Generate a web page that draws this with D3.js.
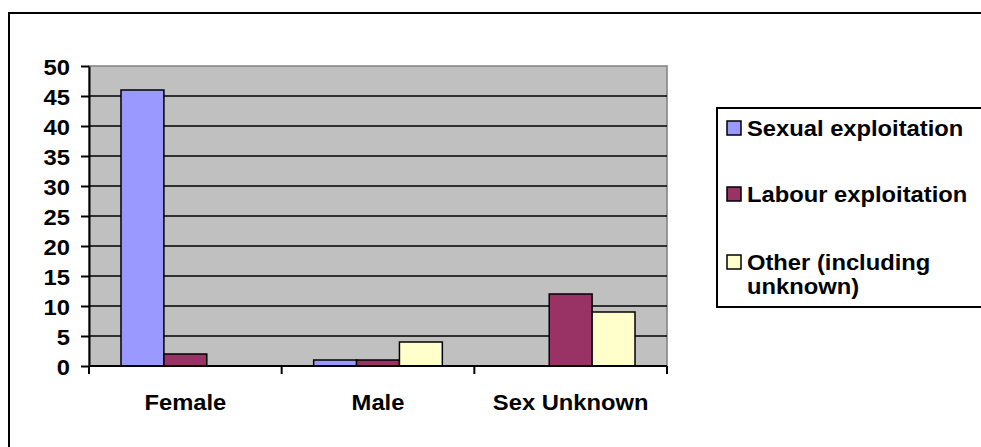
<!DOCTYPE html>
<html>
<head>
<meta charset="utf-8">
<script src="https://cdn.jsdelivr.net/npm/d3@7"></script>
<style>
  body { margin: 0; background: #fff; }
  svg text { font-family: "Liberation Sans", Arial, sans-serif; font-weight: bold; fill: #000; }
</style>
</head>
<body>
<div id="container"></div>
<script>
const categories = ['Female', 'Male', 'Sex Unknown'];
const series = ['Sexual exploitation', 'Labour exploitation', 'Other (including unknown)'];
const sexual = [46, 1, 0];
const labour = [2, 1, 12];
const other = [0, 4, 9];
const yTicks = [0, 5, 10, 15, 20, 25, 30, 35, 40, 45, 50];
const colors = ['#9999ff', '#993366', '#ffffcc'];
const legendLines = [['Sexual exploitation'], ['Labour exploitation'], ['Other (including', 'unknown)']];

const width = 981;
const height = 447;
const stretch = 1.08; // text in the picture is a little wider than it is tall
const fontSize = 22;

const plot = {left: 89, right: 667, top: 66, bottom: 366};

const svg = d3.select('#container').append('svg')
  .attr('width', width)
  .attr('height', height);

// outer chart frame
svg.append('rect')
  .attr('x', 9)
  .attr('y', 13)
  .attr('width', width)
  .attr('height', height)
  .attr('fill', 'none')
  .attr('stroke', '#000')
  .attr('stroke-width', 2);

const x0 = d3.scaleBand()
  .domain(categories)
  .range([plot.left, plot.right]);

const x1 = d3.scaleBand()
  .domain(series)
  .range([32, x0.bandwidth() - 32]);

const y = d3.scaleLinear()
  .domain([0, 50])
  .range([plot.bottom, plot.top]);

// plot area
svg.append('rect')
  .attr('x', plot.left)
  .attr('y', plot.top)
  .attr('width', plot.right - plot.left)
  .attr('height', plot.bottom - plot.top)
  .attr('fill', '#c0c0c0')
  .attr('stroke', '#808080')
  .attr('stroke-width', 1.5);

svg.append('g')
  .selectAll('line')
  .data(yTicks.filter(d => d > 0 && d < 50))
  .join('line')
  .attr('x1', plot.left)
  .attr('x2', plot.right)
  .attr('y1', d => y(d))
  .attr('y2', d => y(d))
  .attr('stroke', '#000')
  .attr('stroke-width', 1.5);

// bars
const rows = categories.map((c, i) => ({
  cat: c,
  values: [sexual[i], labour[i], other[i]]
}));

const group = svg.append('g')
  .selectAll('g')
  .data(rows)
  .join('g')
  .attr('transform', d => `translate(${x0(d.cat)},0)`);

group.selectAll('rect')
  .data(d => d.values.map((v, j) => ({key: series[j], value: v, color: colors[j]})))
  .join('rect')
  .filter(d => d.value > 0)
  .attr('x', d => x1(d.key))
  .attr('y', d => y(d.value))
  .attr('width', x1.bandwidth())
  .attr('height', d => y(0) - y(d.value))
  .attr('fill', d => d.color)
  .attr('stroke', '#000')
  .attr('stroke-width', 1.5);

// axes
const yAxis = svg.append('g')
  .attr('transform', `translate(${plot.left},0)`)
  .call(d3.axisLeft(y).tickValues(yTicks).tickSize(8).tickSizeOuter(0));
yAxis.select('.domain').attr('stroke', '#000').attr('stroke-width', 2);
yAxis.selectAll('.tick line').attr('stroke', '#000').attr('stroke-width', 2);
yAxis.selectAll('.tick text')
  .attr('x', null)
  .attr('dy', null)
  .attr('font-size', fontSize)
  .attr('text-anchor', 'end')
  .attr('transform', `translate(-19,8) scale(${stretch},1)`);

const xAxis = svg.append('g')
  .attr('transform', `translate(0,${plot.bottom})`);
xAxis.append('line')
  .attr('x1', plot.left)
  .attr('x2', plot.right)
  .attr('stroke', '#000')
  .attr('stroke-width', 2);
xAxis.selectAll('.edge')
  .data(categories.map(c => x0(c)).concat([plot.right]))
  .join('line')
  .attr('class', 'edge')
  .attr('x1', d => d)
  .attr('x2', d => d)
  .attr('y1', 0)
  .attr('y2', 8)
  .attr('stroke', '#000')
  .attr('stroke-width', 2);
xAxis.selectAll('text')
  .data(categories)
  .join('text')
  .attr('font-size', fontSize)
  .attr('text-anchor', 'middle')
  .attr('transform', d => `translate(${x0(d) + x0.bandwidth() / 2},44) scale(${stretch},1)`)
  .text(d => d);

// legend
const legend = svg.append('g');
legend.append('rect')
  .attr('x', 717)
  .attr('y', 108)
  .attr('width', 300)
  .attr('height', 199)
  .attr('fill', '#fff')
  .attr('stroke', '#000')
  .attr('stroke-width', 2);

const legendY = [128, 194, 262];
const item = legend.selectAll('.item')
  .data(series)
  .join('g')
  .attr('class', 'item')
  .attr('transform', (d, i) => `translate(727,${legendY[i]})`);

item.append('rect')
  .attr('x', 0)
  .attr('y', -7)
  .attr('width', 14)
  .attr('height', 14)
  .attr('fill', (d, i) => colors[i])
  .attr('stroke', '#000')
  .attr('stroke-width', 1.5);

item.each(function(d, i) {
  const lines = legendLines[i];
  d3.select(this).selectAll('text')
    .data(lines)
    .join('text')
    .attr('font-size', fontSize)
    .attr('transform', (t, k) => `translate(20,${8 + k * 24}) scale(${stretch},1)`)
    .text(t => t);
});
</script>
</body>
</html>
